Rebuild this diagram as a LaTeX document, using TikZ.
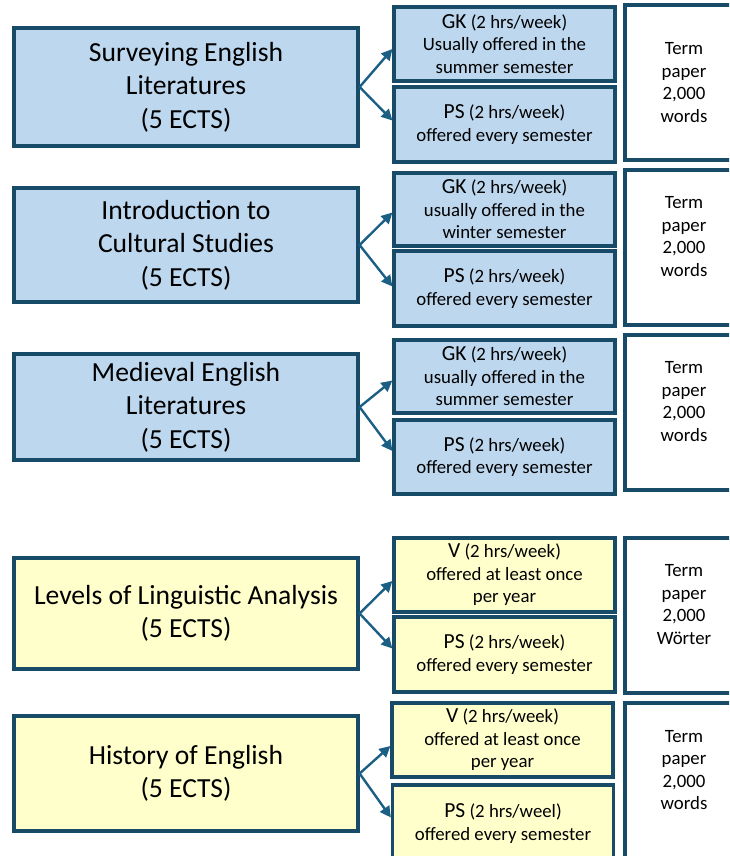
\documentclass[tikz,border=0pt]{standalone}
\usepackage{fontspec}
\setmainfont{Carlito}
\usetikzlibrary{arrows.meta}

\definecolor{boxedge}{HTML}{174B68}
\definecolor{linkblue}{HTML}{1B5F84}
\definecolor{litblue}{HTML}{BDD7EE}
\definecolor{lingyellow}{HTML}{FFFFCC}

\newcommand{\ctype}[1]{{\fontsize{21.5}{22.5}\selectfont #1}}

\begin{document}
\begin{tikzpicture}[
    x=1pt, y=-1pt,
    font=\fontsize{18.8}{22.5}\selectfont,
    module/.style={draw=boxedge, line width=3.2pt, minimum width=344pt, inner sep=0pt,
                   align=center, font=\fontsize{27.6}{33.5}\selectfont},
    course/.style={draw=boxedge, line width=3.2pt, minimum width=221pt, inner sep=0pt, align=center},
    exam/.style={draw=boxedge, line width=3.2pt, fill=white, minimum width=118pt,
                 minimum height=155pt, inner sep=0pt, align=center},
    lit/.style={fill=litblue},
    ling/.style={fill=lingyellow},
    link/.style={draw=linkblue, line width=2.4pt, -{Triangle[length=11pt, width=11pt]}},
]

\useasboundingbox (0, 0) rectangle (729, 856);
\clip (0, 0) rectangle (729, 856);

% Surveying English Literatures
\node[module, lit, minimum height=118pt] (sel) at (186, 87) {Surveying English\\Literatures\\(5 ECTS)};
\node[course, lit, minimum height=74pt] (selgk) at (504.5, 44) {\ctype{GK} (2 hrs/week)\\Usually offered in the\\summer semester};
\node[course, lit, minimum height=75pt] (selps) at (504.5, 124.5) {\ctype{PS} (2 hrs/week)\\offered every semester};
\node[exam] (selterm) at (684, 82.5) {Term\\paper\\2,000\\words};
\draw[link] (sel.east) -- ([yshift=-5pt]selgk.west);
\draw[link] (sel.east) -- ([yshift=4pt]selps.west);

% Introduction to Cultural Studies
\node[module, lit, minimum height=114pt] (ics) at (186, 245) {Introduction to\\Cultural Studies\\(5 ECTS)};
\node[course, lit, minimum height=73pt] (icsgk) at (504.5, 209.5) {\ctype{GK} (2 hrs/week)\\usually offered in the\\winter semester};
\node[course, lit, minimum height=75pt] (icsps) at (504.5, 288.5) {\ctype{PS} (2 hrs/week)\\offered every semester};
\node[exam] (icsterm) at (684, 247.5) {Term\\paper\\2,000\\words\\\mbox{}};
\draw[link] (ics.east) -- ([yshift=-3pt]icsgk.west);
\draw[link] (ics.east) -- ([yshift=2pt]icsps.west);

% Medieval English Literatures
\node[module, lit, minimum height=106pt] (mel) at (186, 407) {Medieval English\\Literatures\\(5 ECTS)};
\node[course, lit, minimum height=73pt] (melgk) at (504.5, 376.5) {\ctype{GK} (2 hrs/week)\\usually offered in the\\summer semester};
\node[course, lit, minimum height=74pt] (melps) at (504.5, 457) {\ctype{PS} (2 hrs/week)\\offered every semester};
\node[exam] (melterm) at (684, 412.5) {Term\\paper\\2,000\\words\\\mbox{}};
\draw[link] (mel.east) -- ([yshift=-4pt]melgk.west);
\draw[link] (mel.east) -- ([yshift=6pt]melps.west);

% Levels of Linguistic Analysis
\node[module, ling, minimum height=111pt] (lla) at (186, 613.5) {Levels of Linguistic Analysis\\(5 ECTS)};
\node[course, ling, minimum height=74pt] (llav) at (504.5, 575) {\ctype{V} (2 hrs/week)\\offered at least once\\per year};
\node[course, ling, minimum height=75pt] (llaps) at (504.5, 654.5) {\ctype{PS} (2 hrs/week)\\offered every semester};
\node[exam] (llaterm) at (684, 615.5) {Term\\paper\\2,000\\Wörter\\\mbox{}};
\draw[link] (lla.east) -- ([yshift=-6pt]llav.west);
\draw[link] (lla.east) -- ([yshift=6pt]llaps.west);

% History of English
\node[module, ling, minimum height=115pt] (hoe) at (186, 773.5) {History of English\\(5 ECTS)};
\node[course, ling, minimum height=74pt] (hoev) at (502.5, 740) {\ctype{V} (2 hrs/week)\\offered at least once\\per year};
\node[course, ling, minimum height=77pt] (hoeps) at (503, 823.5) {\ctype{PS} (2 hrs/weel)\\offered every semester};
\node[exam, minimum height=156pt] (hoeterm) at (684, 781) {Term\\paper\\2,000\\words\\\mbox{}};
\draw[link] (hoe.east) -- ([yshift=-6pt]hoev.west);
\draw[link] (hoe.east) -- ([yshift=6pt]hoeps.west);

\end{tikzpicture}
\end{document}
